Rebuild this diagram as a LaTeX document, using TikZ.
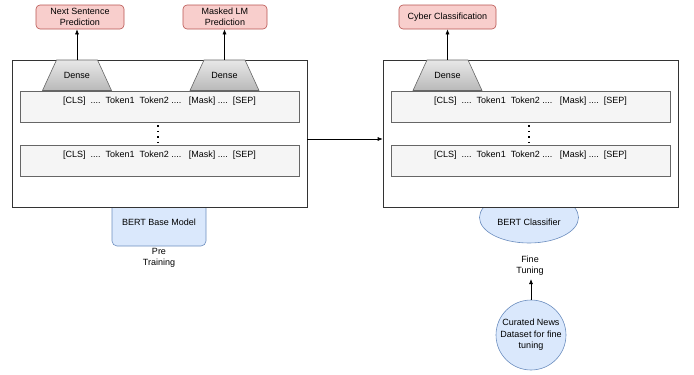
\documentclass[tikz,border=0pt]{standalone}
\usepackage{fontspec}
\setmainfont{Liberation Sans}
\usetikzlibrary{shapes.geometric,arrows.meta,positioning}
\definecolor{redfill}{HTML}{F8CECC}
\definecolor{redline}{HTML}{B85450}
\definecolor{bluefill}{HTML}{DAE8FC}
\definecolor{blueline}{HTML}{6C8EBF}
\definecolor{greyline}{HTML}{666666}
\definecolor{rowfill}{HTML}{F5F5F5}

\begin{document}
\begin{tikzpicture}[x=1pt,y=-1pt,font=\fontsize{9}{11.5}\selectfont,line width=0.6pt,
  bigbox/.style={draw=black!80,fill=white,minimum width=295pt,minimum height=147pt},
  tokrow/.style={draw=greyline,fill=rowfill,minimum width=279pt,minimum height=31pt,text height=7pt,text depth=13pt,inner sep=0pt},
  dense/.style={draw=greyline,top color=gray!18,bottom color=gray!55},
  dots/.style={line width=1.3pt,dash pattern=on 1.3pt off 4.2pt},
  outbox/.style={draw=redline,fill=redfill,rounded corners=4pt,minimum height=24pt,align=center,inner sep=1pt},
  bluebox/.style={draw=blueline,fill=bluefill},
  arr/.style={-{Latex[length=5pt,width=4pt]}}]
\useasboundingbox (0,0) rectangle (694,375);

% pre training side
\node[bluebox,rounded corners=5pt,minimum width=94pt,minimum height=48pt] (base) at (159,222) {BERT Base Model};
\node[align=center] (pre) at (159,258) {Pre\\Training};
\node[bigbox] (bl) at (159.5,133.5) {};
\node[tokrow] (l1) at (159.5,106.5) {[CLS]\ \ ....\ \ Token1\ \ Token2 ....\ \ \ [Mask] ....\ \ [SEP]};
\node[tokrow] (l2) at (159.5,160.5) {[CLS]\ \ ....\ \ Token1\ \ Token2 ....\ \ \ [Mask] ....\ \ [SEP]};
\draw[dots] ([xshift=-1.5pt,yshift=-3pt]l1.south) -- ([xshift=-1.5pt]l2.north);
\path[dense] (77,75.5) +(-34.5,15) -- +(-20.5,-15.5) -- +(20.5,-15.5) -- +(34.5,15) -- cycle;
\path[dense] (224.5,75.5) +(-34.5,15) -- +(-20.5,-15.5) -- +(20.5,-15.5) -- +(34.5,15) -- cycle;
\node[inner sep=0pt,minimum height=31pt] (ld1) at (77,75.5) {Dense};
\node[inner sep=0pt,minimum height=31pt] (ld2) at (224.5,75.5) {Dense};
\node[outbox,minimum width=88pt] (nsp) at (80,17) {Next Sentence\\Prediction};
\node[outbox,minimum width=84pt] (mlm) at (225,17) {Masked LM\\Prediction};
\draw[arr] (ld1.north) -- (ld1.north |- nsp.south);
\draw[arr] (ld2.north) -- (ld2.north |- mlm.south);

% fine tuning side
\node[bluebox,ellipse,minimum width=94pt,minimum height=51pt,text height=15.5pt,text depth=0pt] (clf) at (529,217.5) {BERT Classifier};
\node[bigbox] (br) at (530.5,133.5) {};
\node[tokrow] (r1) at (530.5,106.5) {[CLS]\ \ ....\ \ Token1\ \ Token2 ....\ \ \ [Mask] ....\ \ [SEP]};
\node[tokrow] (r2) at (530.5,160.5) {[CLS]\ \ ....\ \ Token1\ \ Token2 ....\ \ \ [Mask] ....\ \ [SEP]};
\draw[dots] ([xshift=-1.5pt,yshift=-3pt]r1.south) -- ([xshift=-1.5pt]r2.north);
\path[dense] (447.5,75.5) +(-34.5,15) -- +(-20.5,-15.5) -- +(20.5,-15.5) -- +(34.5,15) -- cycle;
\node[inner sep=0pt,minimum height=31pt] (rd1) at (447.5,75.5) {Dense};
\node[outbox,minimum width=97pt] (cyb) at (447.5,17) {Cyber Classification};
\draw[arr] (rd1.north) -- (cyb.south);
\node[align=center] (fine) at (530,265.5) {Fine\\Tuning};
\node[bluebox,circle,minimum size=70pt,align=center,inner sep=0pt] (data) at (531,335) {Curated News\\Dataset for fine\\tuning};
\draw[arr] (data.north) -- (data.north |- fine.south);

\draw[arr] ([yshift=-5.5pt]bl.east) -- ([yshift=-5.5pt]br.west);
\end{tikzpicture}
\end{document}
